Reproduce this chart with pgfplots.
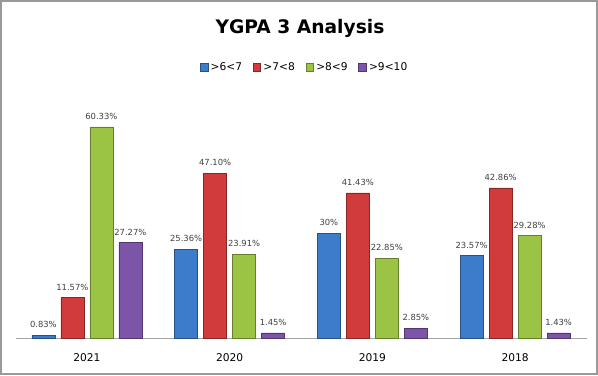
\documentclass[border=0pt]{standalone}
\usepackage{pgfplots}
\pgfplotsset{compat=1.18}
\usepackage{fontspec}
\setmainfont{DejaVu Sans}
\definecolor{cb}{HTML}{3D7CCB}
\definecolor{cr}{HTML}{D23B3B}
\definecolor{cg}{HTML}{9BC445}
\definecolor{cp}{HTML}{7C54A8}
\definecolor{lbl}{HTML}{404040}
\begin{document}
\begin{tikzpicture}
\useasboundingbox (0,0) rectangle (448.5pt,281.25pt);
\draw[color=gray!80, line width=1.5pt] (0.75pt,0.75pt) rectangle (447.75pt,280.5pt);
\node[font=\bfseries\fontsize{14}{14}\selectfont] at (225pt,260pt) {YGPA 3 Analysis};
\begin{axis}[
  at={(11.625pt,27.75pt)}, anchor=south west,
  scale only axis, width=428.25pt, height=170.625pt,
  xmin=-0.5, xmax=3.5, ymin=0, ymax=65,
  ybar=4.5pt, bar width=17.25pt,
  axis x line*=bottom, hide y axis,
  axis line style={gray!70, line width=0.6pt, -},
  xtick={0,1,2,3}, xticklabels={2021,2020,2019,2018},
  major tick length=0pt,
  xticklabel style={font=\fontsize{8}{9}\selectfont, yshift=-8pt},
  point meta=explicit symbolic,
  nodes near coords={\pgfplotspointmeta\%},
  every node near coord/.append style={font=\fontsize{6.3}{7}\selectfont, text=lbl, yshift=2pt},
  legend columns=4,
  legend style={at={(0.507,1.19)}, anchor=center, draw=none, fill=none,
    font=\fontsize{8}{9}\selectfont, /tikz/every even column/.append style={column sep=6pt}},
  legend image code/.code={\fill[#1] (0pt,-2.8pt) rectangle (5.6pt,2.8pt);},
  clip=false,
]
\addplot[draw=cb!65!black, fill=cb] table[x=x,y=y,meta=m] {
x y m
0 0.83 0.83
1 25.36 25.36
2 30 30
3 23.57 23.57
};
\addplot[draw=cr!65!black, fill=cr] table[x=x,y=y,meta=m] {
x y m
0 11.57 11.57
1 47.10 47.10
2 41.43 41.43
3 42.86 42.86
};
\addplot[draw=cg!65!black, fill=cg] table[x=x,y=y,meta=m] {
x y m
0 60.33 60.33
1 23.91 23.91
2 22.85 22.85
3 29.28 29.28
};
\addplot[draw=cp!65!black, fill=cp] table[x=x,y=y,meta=m] {
x y m
0 27.27 27.27
1 1.45 1.45
2 2.85 2.85
3 1.43 1.43
};
\legend{\textgreater6\textless7,\textgreater7\textless8,\textgreater8\textless9,\textgreater9\textless10}
\end{axis}
\end{tikzpicture}
\end{document}
